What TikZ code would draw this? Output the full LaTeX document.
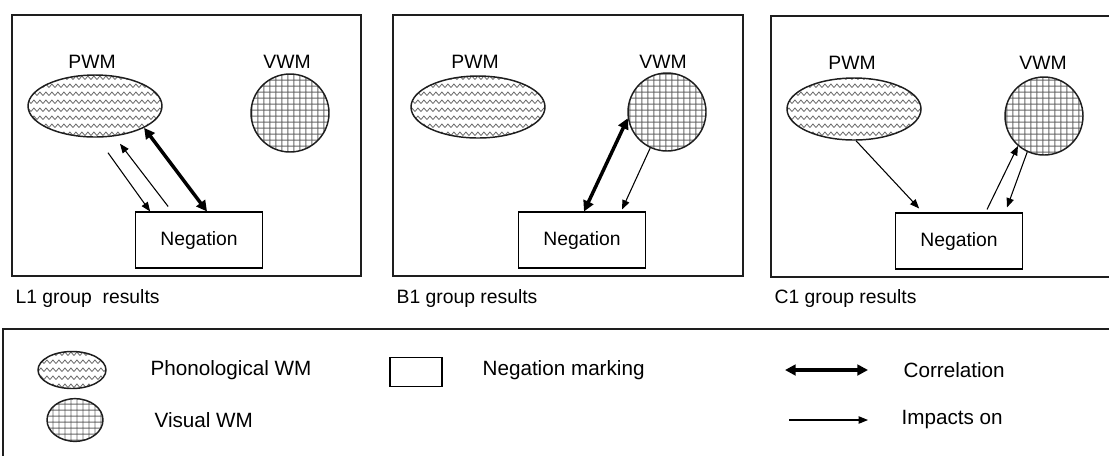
\documentclass[tikz,border=0pt]{standalone}
\usepackage{fontspec}
\setmainfont{Liberation Sans}
\usepackage{xcolor}
\usetikzlibrary{arrows.meta,shapes.geometric,patterns.meta,positioning}
\definecolor{edgegray}{RGB}{30, 30, 30}
\definecolor{hatchgray}{RGB}{105, 105, 105}

\tikzdeclarepattern{
  name=wmwave,
  bottom left={(0pt,0pt)},
  top right={(4.8pt,6.3pt)},
  tile size={(4.8pt,6.3pt)},
  code={\draw[line width=0.65pt] (0pt,1.2pt) -- (2.4pt,4pt) -- (4.8pt,1.2pt);}
}
\tikzdeclarepattern{
  name=wmgrid,
  bottom left={(0pt,0pt)},
  top right={(4.8pt,4.8pt)},
  tile size={(4.8pt,4.8pt)},
  code={\draw[line width=0.75pt] (0pt,2.4pt) -- (4.8pt,2.4pt) (2.4pt,0pt) -- (2.4pt,4.8pt);}
}

\begin{document}
\begin{tikzpicture}[x=0.75pt, y=-0.75pt,
    lbl/.style={font=\fontsize{14.5}{17}\selectfont, inner sep=1pt},
    leglbl/.style={font=\fontsize{15.5}{18}\selectfont, inner sep=1pt},
    panel/.style={draw=edgegray, line width=0.9pt},
    pwm/.style={ellipse, draw=edgegray, line width=1.1pt, pattern=wmwave, pattern color=hatchgray,
      minimum width=100.5pt, minimum height=46.5pt, inner sep=0pt},
    vwm/.style={circle, draw=edgegray, line width=1.1pt, pattern=wmgrid, pattern color=hatchgray,
      minimum size=58.5pt, inner sep=0pt},
    negbox/.style={rectangle, draw=black, line width=0.8pt, minimum width=95pt, minimum height=42pt,
      font=\fontsize{14.5}{17}\selectfont},
    impact/.style={-{Triangle[length=7pt,width=5.5pt]}, line width=0.8pt},
    corr/.style={{Triangle[length=8pt,width=8pt]}-{Triangle[length=8pt,width=8pt]}, line width=2.6pt}]
            \useasboundingbox (0,0) rectangle (1109,455);

            % L1 panel
            \draw[panel] (12,15) rectangle (361,276);
            \node[pwm] (pwmA) at (95,106) {};
            \node[lbl] (pwmAlbl) at (92,62) {PWM};
            \node[vwm] (vwmA) at (290,113) {};
            \node[lbl] (vwmAlbl) at (287,62) {VWM};
            \node[negbox] (negA) at (199,240) {Negation};
            \draw[impact] ([shift={(13,15)}]pwmA.south) -- ([shift={(15,0)}]negA.north west);
            \draw[impact] ([shift={(33,-5)}]negA.north west) -- ([shift={(25,6)}]pwmA.south);
            \draw[corr] (pwmA.-24) -- ([shift={(8,0)}]negA.north);
            \node[lbl, anchor=west] (resA) at (14,298) {L1 group \ results};

            % B1 panel
            \draw[panel] (393,15) rectangle (743,276);
            \node[pwm] (pwmB) at (478,107) {};
            \node[lbl] (pwmBlbl) at (475,62) {PWM};
            \node[vwm] (vwmB) at (667,112) {};
            \node[lbl] (vwmBlbl) at (663,62) {VWM};
            \node[negbox] (negB) at (582,240) {Negation};
            \draw[corr] ([shift={(2,0)}]negB.north) -- (vwmB.189);
            \draw[impact] (vwmB.-115) -- ([shift={(40,-2)}]negB.north);
            \node[lbl, anchor=west] (resB) at (395,298) {B1 group results};

            % C1 panel
            \draw[panel] (771,16) rectangle (1120,277);
            \node[pwm] (pwmC) at (854,109) {};
            \node[lbl] (pwmClbl) at (852,63) {PWM};
            \node[vwm] (vwmC) at (1044,116) {};
            \node[lbl] (vwmClbl) at (1043,63) {VWM};
            \node[negbox] (negC) at (959,241) {Negation};
            \draw[impact] ([shift={(2,0)}]pwmC.south) -- ([shift={(24,-4)}]negC.north west);
            \draw[impact] ([shift={(28,-3)}]negC.north) -- (vwmC.-131);
            \draw[impact] (vwmC.-115) -- ([shift={(48,-5)}]negC.north);
            \node[lbl, anchor=west] (resC) at (773,298) {C1 group results};

            % Legend
            \draw[panel] (3,329) rectangle (1120,470);
            \node[pwm, minimum width=51pt, minimum height=27.75pt] (legP) at (72,370) {};
            \node[leglbl, anchor=west] (legPtxt) at (149,370) {Phonological WM};
            \node[vwm, ellipse, minimum width=42pt, minimum height=32pt] (legV) at (75,420) {};
            \node[leglbl, anchor=west] (legVtxt) at (153,420) {Visual WM};
            \node[negbox, minimum width=39pt, minimum height=22pt] (legN) at (416,372) {};
            \node[leglbl, anchor=west] (legNtxt) at (481,370) {Negation marking};
            \coordinate (corL) at (785,370);
            \coordinate (corR) at (868,370);
            \draw[corr] (corL) -- (corR);
            \node[leglbl, anchor=west] (corTxt) at (902,370) {Correlation};
            \coordinate (impL) at (789,420);
            \coordinate (impR) at (868,420);
            \draw[impact] (impL) -- (impR);
            \node[leglbl, anchor=west] (impTxt) at (900,420) {Impacts on};
        \end{tikzpicture}
\end{document}
